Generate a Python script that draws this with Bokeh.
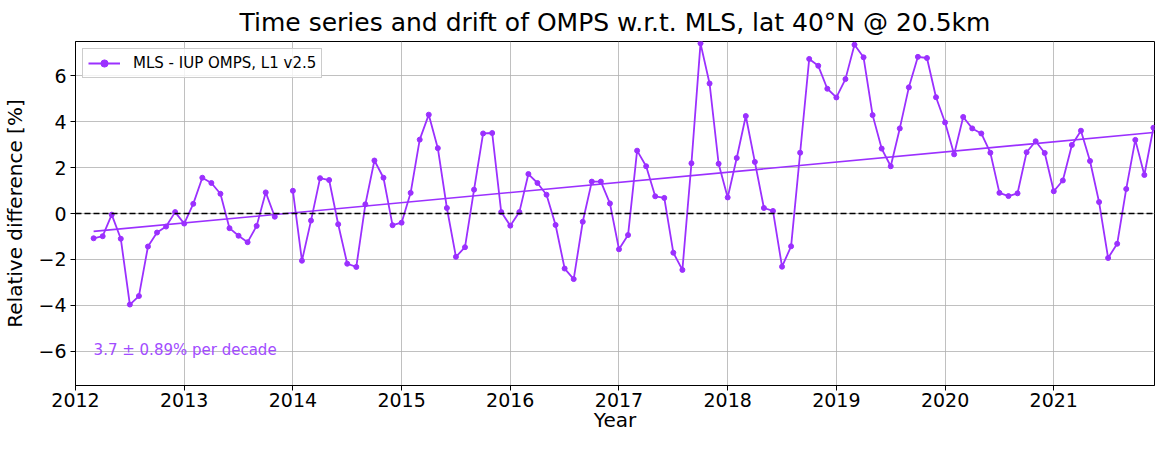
import numpy as np
from bokeh.plotting import figure
from bokeh.models import Span, Label, Legend, LegendItem, FixedTicker, ColumnDataSource, Range1d
from bokeh.embed import file_html
from bokeh.resources import INLINE

# ---- data (monthly, first of month; Dec 2013 missing) ----
start_year = 2012
start_month = 3
vals_2012 = [-1.08, -0.99, -0.05, -1.10, -3.97, -3.60, -1.44, -0.83, -0.57, 0.06]
vals_2013 = [-0.44, 0.42, 1.56, 1.33, 0.86, -0.64, -0.97, -1.25, -0.54, 0.92, -0.14, np.nan]
vals_2014 = [0.99, -2.06, -0.31, 1.54, 1.46, -0.47, -2.19, -2.33, 0.40, 2.31, 1.56, -0.51]
vals_2015 = [-0.40, 0.90, 3.22, 4.31, 2.85, 0.24, -1.89, -1.47, 1.04, 3.49, 3.51, 0.06]
vals_2016 = [-0.53, 0.06, 1.72, 1.33, 0.82, -0.50, -2.40, -2.86, -0.36, 1.39, 1.39, 0.44]
vals_2017 = [-1.56, -0.94, 2.74, 2.06, 0.75, 0.68, -1.71, -2.46, 2.19, 7.42, 5.67, 2.17]
vals_2018 = [0.70, 2.42, 4.25, 2.25, 0.24, 0.11, -2.32, -1.43, 2.65, 6.74, 6.44, 5.44]
vals_2019 = [5.06, 5.86, 7.36, 6.81, 4.29, 2.83, 2.06, 3.71, 5.50, 6.83, 6.78, 5.07]
vals_2020 = [3.97, 2.58, 4.21, 3.71, 3.49, 2.65, 0.90, 0.76, 0.88, 2.67, 3.15, 2.64]
vals_2021 = [0.97, 1.44, 2.99, 3.61, 2.29, 0.50, -1.94, -1.32, 1.07, 3.21, 1.68, 3.74]

trend_start_value = -0.78
trend_end_value = 3.53

year_ticks = [2012, 2013, 2014, 2015, 2016, 2017, 2018, 2019, 2020, 2021]
y_ticks = [-6, -4, -2, 0, 2, 4, 6]

series_label = "MLS - IUP OMPS, L1 v2.5"
trend_text = "3.7 \u00b1  0.89% per decade"
title_text = "Time series and drift of OMPS w.r.t. MLS, lat 40\u00b0N @ 20.5km"
x_label = "Year"
y_label = "Relative difference [%]"

values = (vals_2012 + vals_2013 + vals_2014 + vals_2015 + vals_2016 +
          vals_2017 + vals_2018 + vals_2019 + vals_2020 + vals_2021)
months_idx = np.arange(len(values)) + (start_month - 1)
x = start_year + months_idx / 12.0
y = np.array(values, dtype=float)

COLOR = "#9b30ff"
FONT = "DejaVu Sans"

p = figure(width=1156, height=434, output_backend="svg", toolbar_location=None,
           x_range=Range1d(2012, x[-1] + 0.01), y_range=Range1d(-7.5, 7.5),
           min_border_left=71, min_border_right=2, min_border_top=32, min_border_bottom=0)

p.title.text = title_text
p.title.text_font = FONT
p.title.text_font_size = "25px"
p.title.text_font_style = "normal"
p.title.text_color = "black"
p.title.align = "center"
p.title.standoff = 10

src = ColumnDataSource(dict(x=x, y=y))
ln = p.line("x", "y", source=src, line_color=COLOR, line_width=1.8)
sc = p.scatter("x", "y", source=src, size=5, fill_color=COLOR, line_color=COLOR)

p.line([x[0], x[-1]], [trend_start_value, trend_end_value], line_color=COLOR, line_width=1.6)

p.add_layout(Span(location=0, dimension="width", line_color="black", line_width=1.5, line_dash="6 3"))

p.add_layout(Label(x=x[0], y=-5.95, text=trend_text, text_color="#a24cff", text_font=FONT,
                   text_font_size="15px", text_baseline="alphabetic"))

legend = Legend(items=[LegendItem(label=series_label, renderers=[ln, sc])],
                location="top_left", margin=7, padding=5, glyph_width=32, glyph_height=18,
                label_height=18, label_standoff=13, label_text_font=FONT, label_text_font_size="15px",
                label_text_color="black",
                border_line_color="#cccccc", border_line_alpha=1, background_fill_alpha=0.8)
p.add_layout(legend)

for ax in (p.xaxis[0], p.yaxis[0]):
    ax.major_label_text_font = FONT
    ax.major_label_text_font_size = "19px"
    ax.major_label_text_color = "black"
    ax.axis_label_text_font = FONT
    ax.axis_label_text_font_size = "20px"
    ax.axis_label_text_font_style = "normal"
    ax.axis_label_text_color = "black"
    ax.axis_line_color = "black"
    ax.major_tick_line_color = "black"
    ax.major_tick_out = 5
    ax.major_tick_in = 0
    ax.minor_tick_line_color = None

p.xaxis.ticker = FixedTicker(ticks=year_ticks)
p.xaxis.major_label_overrides = {t: str(t) for t in year_ticks}
p.xaxis.major_label_standoff = 2
p.xaxis.axis_label = x_label
p.xaxis.axis_label_standoff = -2
p.yaxis.ticker = FixedTicker(ticks=y_ticks)
p.yaxis.major_label_overrides = {t: (str(t).replace("-", "\u2212")) for t in y_ticks}
p.yaxis.axis_label = y_label
p.yaxis.axis_label_standoff = 8
p.yaxis.major_label_standoff = 4

p.xgrid.ticker = FixedTicker(ticks=year_ticks)
p.ygrid.ticker = FixedTicker(ticks=y_ticks)
p.grid.grid_line_color = "#b0b0b0"
p.grid.grid_line_width = 0.8
p.grid.grid_line_alpha = 1

p.outline_line_color = "black"
p.outline_line_alpha = 1
p.outline_line_width = 1

open("out.html", "w").write(file_html(p, INLINE))
